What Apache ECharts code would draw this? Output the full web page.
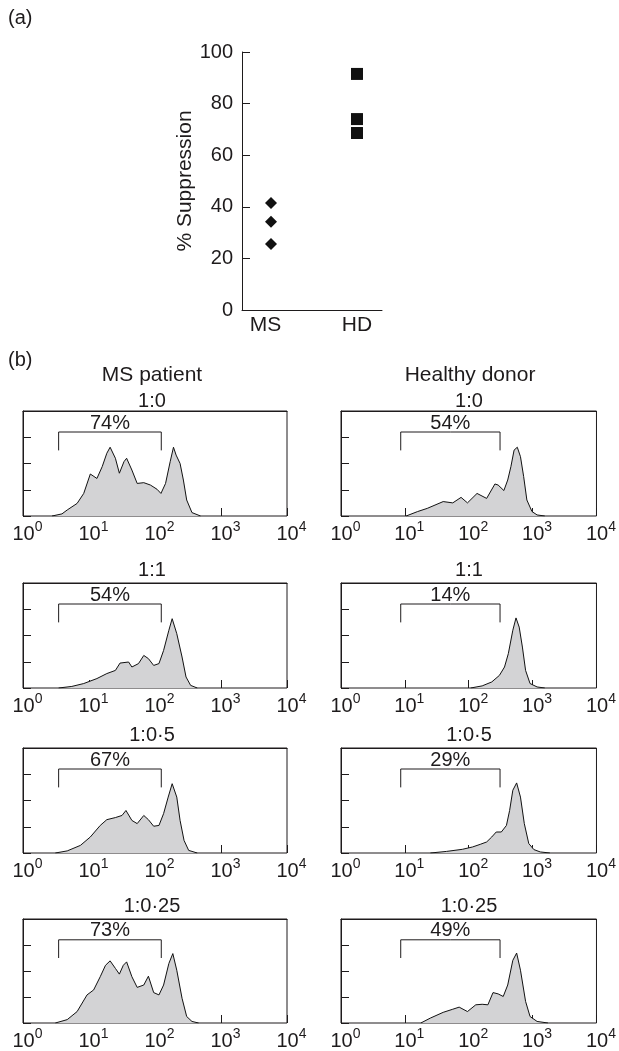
<!DOCTYPE html>
<html>
<head>
<meta charset="utf-8">
<script src="https://cdn.jsdelivr.net/npm/echarts@6/dist/echarts.min.js"></script>
<style>
  html, body { margin: 0; padding: 0; background: #fff; }
  #chart { width: 619px; height: 1051px; }
</style>
</head>
<body>
<div id="chart"></div>
<script>
// (a) % suppression
const groups = ['MS', 'HD']
const msSupp = [41.5, 34.2, 25.6]
const hdSupp = [91.5, 74, 68.6]

// (b) histograms, x = log10 fluorescence, y = events (axis units 0-4)
const ratios = ['1:0', '1:1', '1:0·5', '1:0·25']
const msPct = ['74%', '54%', '67%', '73%']
const hdPct = ['54%', '14%', '29%', '49%']
const msGate = [0.54, 2.095]
const hdGate = [0.935, 2.49]
const decades = [0, 1, 2, 3, 4]

const msHist10 = [[0.44, 0], [0.59, 0.08], [0.67, 0.23], [0.82, 0.48], [0.92, 0.86], [1.02, 1.6], [1.12, 1.43],
  [1.2, 1.88], [1.27, 2.39], [1.32, 2.62], [1.4, 2.2], [1.46, 1.63], [1.53, 2.07], [1.57, 2.2], [1.65, 1.75],
  [1.73, 1.24], [1.83, 1.27], [1.93, 1.18], [2.03, 1.02], [2.09, 0.86], [2.16, 1.24], [2.23, 2.07], [2.28, 2.62],
  [2.32, 2.32], [2.38, 2.0], [2.43, 1.37], [2.48, 0.61], [2.56, 0.13], [2.69, 0]]
const msHist11 = [[0.54, 0], [0.74, 0.06], [0.92, 0.17], [1.12, 0.36], [1.27, 0.55], [1.4, 0.67], [1.47, 0.95],
  [1.6, 0.99], [1.65, 0.8], [1.75, 0.93], [1.83, 1.24], [1.9, 1.12], [1.98, 0.86], [2.06, 0.93], [2.13, 1.43],
  [2.21, 2.2], [2.26, 2.64], [2.33, 2.07], [2.41, 1.18], [2.47, 0.42], [2.54, 0.1], [2.64, 0]]
const msHist105 = [[0.49, 0], [0.67, 0.08], [0.87, 0.29], [1.02, 0.61], [1.17, 1.05], [1.27, 1.27], [1.4, 1.35],
  [1.5, 1.43], [1.56, 1.62], [1.65, 1.24], [1.73, 1.12], [1.83, 1.43], [1.9, 1.27], [1.98, 1.02], [2.06, 1.05],
  [2.13, 1.5], [2.2, 2.13], [2.26, 2.64], [2.33, 2.13], [2.38, 1.24], [2.44, 0.48], [2.51, 0.1], [2.64, 0]]
const msHist1025 = [[0.49, 0], [0.67, 0.13], [0.82, 0.44], [0.97, 1.08], [1.07, 1.27], [1.17, 1.78], [1.25, 2.22],
  [1.32, 2.39], [1.4, 2.1], [1.46, 1.88], [1.52, 2.22], [1.57, 2.35], [1.65, 1.78], [1.73, 1.37], [1.83, 1.46],
  [1.9, 1.8], [1.98, 1.17], [2.06, 1.08], [2.13, 1.46], [2.21, 2.29], [2.27, 2.67], [2.33, 2.03], [2.41, 0.95],
  [2.48, 0.25], [2.56, 0.06], [2.66, 0]]
const hdHist10 = [[1.02, 0], [1.2, 0.17], [1.35, 0.29], [1.6, 0.55], [1.75, 0.5], [1.88, 0.71], [1.98, 0.5],
  [2.13, 0.86], [2.28, 0.67], [2.41, 1.22], [2.46, 1.18], [2.55, 0.97], [2.61, 1.37], [2.66, 1.88], [2.71, 2.51],
  [2.76, 2.62], [2.81, 2.26], [2.86, 1.5], [2.91, 0.61], [2.99, 0.17], [3.07, 0.04], [3.19, 0]]
const hdHist11 = [[2.03, 0], [2.21, 0.08], [2.36, 0.23], [2.48, 0.48], [2.56, 0.8], [2.62, 1.31], [2.69, 2.2],
  [2.74, 2.67], [2.79, 2.32], [2.84, 1.56], [2.89, 0.67], [2.96, 0.17], [3.07, 0.04], [3.19, 0]]
const hdHist105 = [[1.4, 0], [1.65, 0.06], [1.9, 0.14], [2.06, 0.23], [2.18, 0.33], [2.28, 0.42], [2.36, 0.61],
  [2.43, 0.8], [2.51, 0.8], [2.59, 1.05], [2.64, 1.62], [2.69, 2.39], [2.75, 2.67], [2.81, 2.13], [2.87, 1.12],
  [2.94, 0.36], [3.02, 0.13], [3.12, 0.04], [3.27, 0]]
const hdHist1025 = [[1.25, 0], [1.4, 0.19], [1.6, 0.41], [1.75, 0.53], [1.85, 0.61], [1.98, 0.44], [2.11, 0.7],
  [2.21, 0.72], [2.3, 0.7], [2.38, 1.17], [2.46, 1.12], [2.54, 1.02], [2.61, 1.46], [2.69, 2.41], [2.75, 2.69],
  [2.81, 2.03], [2.89, 0.83], [2.96, 0.25], [3.07, 0.06], [3.24, 0]]

const msHists = [msHist10, msHist11, msHist105, msHist1025]
const hdHists = [hdHist10, hdHist11, hdHist105, hdHist1025]

const font = '"Liberation Sans", Arial, sans-serif'
const ink = '#1e1b1c'
const fill = '#d3d3d5'

const chart = echarts.init(document.getElementById('chart'))

// 布局
const rowTops = [411, 583, 748, 919]
const colLefts = [23, 341]
const boxW = 264
const boxH = 105

const grids = [{ left: 242, top: 52, width: 140, height: 258 }]
const xAxes = [{
  gridIndex: 0, type: 'value', min: -0.337, max: 1.291,
  axisLine: { lineStyle: { color: ink, width: 1 } },
  axisTick: { show: false },
  splitLine: { show: false },
  axisLabel: {
    margin: 5, color: ink, fontFamily: font, fontSize: 21,
    customValues: [0, 1],
    formatter: (v) => (Math.round(v) === 0 ? '{ms|' + groups[0] + '}' : groups[1]),
    rich: { ms: { fontSize: 21, fontFamily: font, color: ink, padding: [0, 11, 0, 0] } }
  }
}]
const yAxes = [{
  gridIndex: 0, type: 'value', min: 0, max: 100, interval: 20,
  name: '% Suppression', nameLocation: 'middle', nameGap: 43,
  nameTextStyle: { fontSize: 21, fontFamily: font, color: ink },
  axisLine: { show: true, onZero: false, lineStyle: { color: ink, width: 1 } },
  axisTick: { show: true, inside: true, length: 8, lineStyle: { color: ink } },
  splitLine: { show: false },
  axisLabel: { margin: 9, color: ink, fontFamily: font, fontSize: 20 }
}]
const series = [
  {
    type: 'scatter', xAxisIndex: 0, yAxisIndex: 0, symbol: 'diamond', symbolSize: [12, 12],
    itemStyle: { color: '#111', opacity: 1 }, data: msSupp.map(v => [0, v])
  },
  {
    type: 'scatter', xAxisIndex: 0, yAxisIndex: 0, symbol: 'rect', symbolSize: 12,
    itemStyle: { color: '#111', opacity: 1 }, data: hdSupp.map(v => [1, v])
  }
]

const textAt = (txt, x, y, align, size) => ({
  type: 'text', x: x, y: y,
  style: {
    text: txt, fontSize: size, fontFamily: font, fill: ink,
    textAlign: align, textVerticalAlign: 'middle', align: align, verticalAlign: 'middle'
  }
})
const graphics = [
  textAt('(a)', 8, 18, 'left', 20),
  textAt('(b)', 8, 360, 'left', 20),
  textAt('MS patient', 152, 375, 'center', 21),
  textAt('Healthy donor', 470, 375, 'center', 21)
]
const rowLabelY = [401, 570, 735, 906]
const colLabelX = [152, 469]

const addHist = (col, row, hist, gate, pct) => {
  const g = grids.length
  grids.push({
    left: colLefts[col], top: rowTops[row], width: boxW, height: boxH,
    show: true, borderColor: ink, borderWidth: 1, backgroundColor: 'transparent'
  })
  const xi = xAxes.length
  xAxes.push({
    gridIndex: g, type: 'value', min: 0, max: 4, interval: 1,
    axisLine: { show: false },
    axisTick: { show: true, inside: true, length: 8, lineStyle: { color: ink } },
    splitLine: { show: false },
    axisLabel: {
      margin: 4, color: ink, fontFamily: font, fontSize: 20,
      formatter: (v) => '{p| }{b|10}{s|' + decades[Math.round(v)] + '}',
      rich: {
        p: { width: 9, fontSize: 12, fontFamily: font },
        b: { fontSize: 20, fontFamily: font, color: ink, lineHeight: 24, verticalAlign: 'bottom' },
        s: { fontSize: 14, fontFamily: font, color: ink, lineHeight: 24, verticalAlign: 'top', padding: [0, 0, 7, 0] }
      }
    }
  })
  // 底边框画在直方图上面
  xAxes.push({
    gridIndex: g, type: 'value', min: 0, max: 4, z: 10,
    axisLine: { show: true, onZero: false, lineStyle: { color: ink, width: 1 } },
    axisTick: { show: false }, axisLabel: { show: false }, splitLine: { show: false }
  })
  const yi = yAxes.length
  yAxes.push({
    gridIndex: g, type: 'value', min: 0, max: 4, interval: 1,
    axisLine: { show: true, onZero: false, lineStyle: { color: ink, width: 1 } },
    axisTick: { show: true, inside: true, length: 8, lineStyle: { color: ink } },
    axisLabel: { show: false }, splitLine: { show: false }
  })
  series.push({
    type: 'line', xAxisIndex: xi, yAxisIndex: yi, data: hist,
    showSymbol: false, symbol: 'none', smooth: false, silent: true,
    lineStyle: { color: '#111', width: 1 },
    areaStyle: { color: fill, opacity: 1 }
  })
  const mid = (gate[0] + gate[1]) / 2
  series.push({
    type: 'line', xAxisIndex: xi, yAxisIndex: yi, silent: true,
    showSymbol: true, symbol: 'circle', symbolSize: 0,
    lineStyle: { color: ink, width: 1 },
    label: { show: false },
    data: [
      [gate[0], 2.5], [gate[0], 3.2],
      { value: [mid, 3.2], label: { show: true, position: 'top', distance: -1, formatter: pct, fontSize: 20, fontFamily: font, color: ink } },
      [gate[1], 3.2], [gate[1], 2.5]
    ]
  })
  graphics.push(textAt(ratios[row], colLabelX[col], rowLabelY[row], 'center', 20))
}

for (let r = 0; r < 4; r++) {
  addHist(0, r, msHists[r], msGate, msPct[r])
  addHist(1, r, hdHists[r], hdGate, hdPct[r])
}

chart.setOption({
  animation: false,
  backgroundColor: '#fff',
  grid: grids,
  xAxis: xAxes,
  yAxis: yAxes,
  series: series,
  graphic: graphics
})
</script>
</body>
</html>
